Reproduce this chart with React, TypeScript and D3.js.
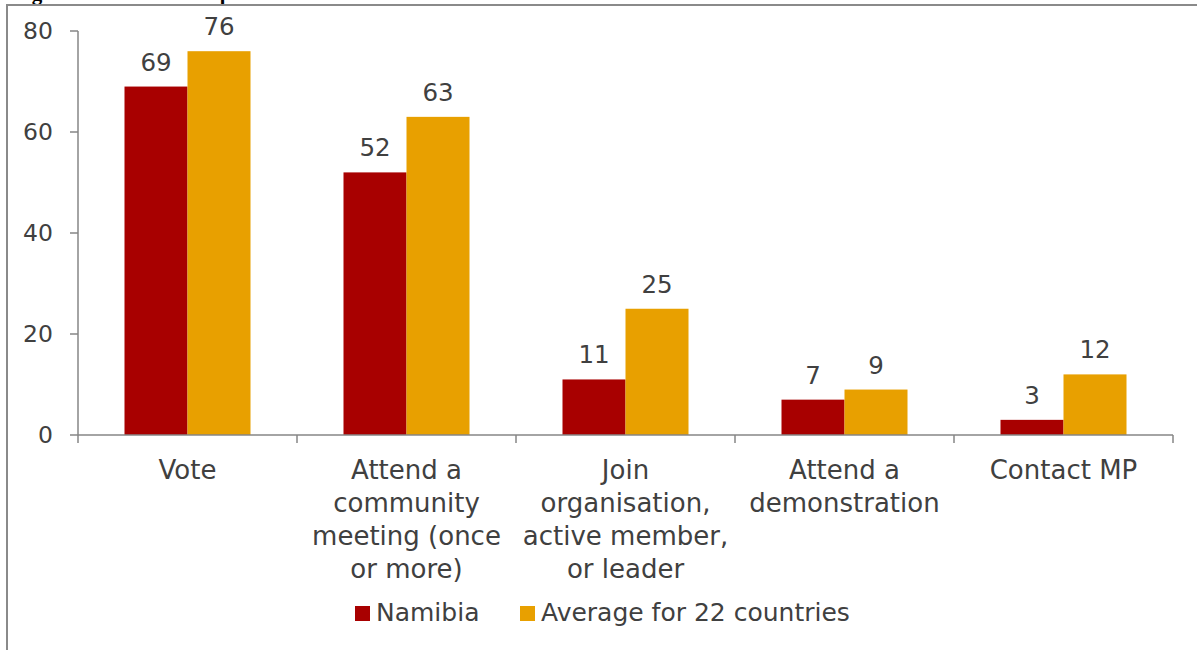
import React from "react";
import * as d3 from "d3";

const categories: string[][] = [
  ["Vote"],
  ["Attend a", "community", "meeting (once", "or more)"],
  ["Join", "organisation,", "active member,", "or leader"],
  ["Attend a", "demonstration"],
  ["Contact MP"],
];
const seriesNames = ["Namibia", "Average for 22 countries"];
const namibia = [69, 52, 11, 7, 3];
const average = [76, 63, 25, 9, 12];
const yTicks = [0, 20, 40, 60, 80];
const colors = ["#A80000", "#E8A000"];
const title = "Figure 9: Namibia compared with 22 countries";

const W = 1197;
const H = 650;
const FONT = "'DejaVu Sans', sans-serif";
const TEXT = "#404040";
const AXIS = "#868686";

export default function App() {
  const keys = categories.map((c) => c.join(" "));
  const x0 = d3.scaleBand<string>().domain(keys).range([78, 1173]).paddingInner(0).paddingOuter(0);
  const x1 = d3
    .scaleBand<string>()
    .domain(seriesNames)
    .range([0, x0.bandwidth()])
    .paddingInner(0)
    .paddingOuter(0.738);
  const y = d3.scaleLinear().domain([0, 80]).range([435, 31]);
  const series = [namibia, average];
  const boundaries = keys.map((k) => x0(k)!).concat([x0.range()[1]]);

  return (
    <svg
      width={W}
      height={H}
      style={{ position: "absolute", left: 0, top: 0, background: "#fff" }}
      fontFamily={FONT}
    >
      <rect x={0} y={0} width={W} height={H} fill="#fff" />
      <text x={13} y={-0.5} fontFamily="'Liberation Serif', serif" fontWeight="bold" fontSize={21} fill="#000">
        {title}
      </text>
      <path d={`M7,${H} V5 H${W}`} fill="none" stroke="#8a8a8a" strokeWidth={2} />

      {/* y axis */}
      <line x1={78} x2={78} y1={y(80)} y2={y(0)} stroke={AXIS} strokeWidth={1.5} />
      {yTicks.map((t) => (
        <g key={t}>
          <line x1={70} x2={78} y1={y(t)} y2={y(t)} stroke={AXIS} strokeWidth={1.5} />
          <text x={53} y={y(t)} dy="0.36em" textAnchor="end" fontSize={23.5} fill={TEXT}>
            {t}
          </text>
        </g>
      ))}

      {/* bars */}
      {keys.map((k, ci) => (
        <g key={k} transform={`translate(${x0(k)},0)`}>
          {series.map((s, si) => {
            const bx = x1(seriesNames[si])!;
            return (
              <g key={si}>
                <rect x={bx} y={y(s[ci])} width={x1.bandwidth()} height={y(0) - y(s[ci])} fill={colors[si]} />
                <text
                  x={bx + x1.bandwidth() / 2}
                  y={y(s[ci]) - 16}
                  textAnchor="middle"
                  fontSize={24.5}
                  fill={TEXT}
                >
                  {s[ci]}
                </text>
              </g>
            );
          })}
        </g>
      ))}

      {/* x axis */}
      <line x1={78} x2={1173} y1={y(0)} y2={y(0)} stroke={AXIS} strokeWidth={1.5} />
      {boundaries.map((b, i) => (
        <line key={i} x1={b} x2={b} y1={y(0)} y2={y(0) + 8} stroke={AXIS} strokeWidth={1.5} />
      ))}
      {categories.map((lines, ci) => (
        <text
          key={ci}
          x={x0(keys[ci])! + x0.bandwidth() / 2}
          y={479}
          textAnchor="middle"
          fontSize={26}
          fill={TEXT}
        >
          {lines.map((l, li) => (
            <tspan key={li} x={x0(keys[ci])! + x0.bandwidth() / 2} dy={li === 0 ? 0 : 33}>
              {l}
            </tspan>
          ))}
        </text>
      ))}

      {/* legend */}
      {seriesNames.map((n, i) => {
        const lx = [355, 520][i];
        return (
          <g key={n}>
            <rect x={lx} y={606} width={15} height={15} fill={colors[i]} />
            <text x={lx + 21} y={621} fontSize={25} fill={TEXT}>
              {n}
            </text>
          </g>
        );
      })}
    </svg>
  );
}
